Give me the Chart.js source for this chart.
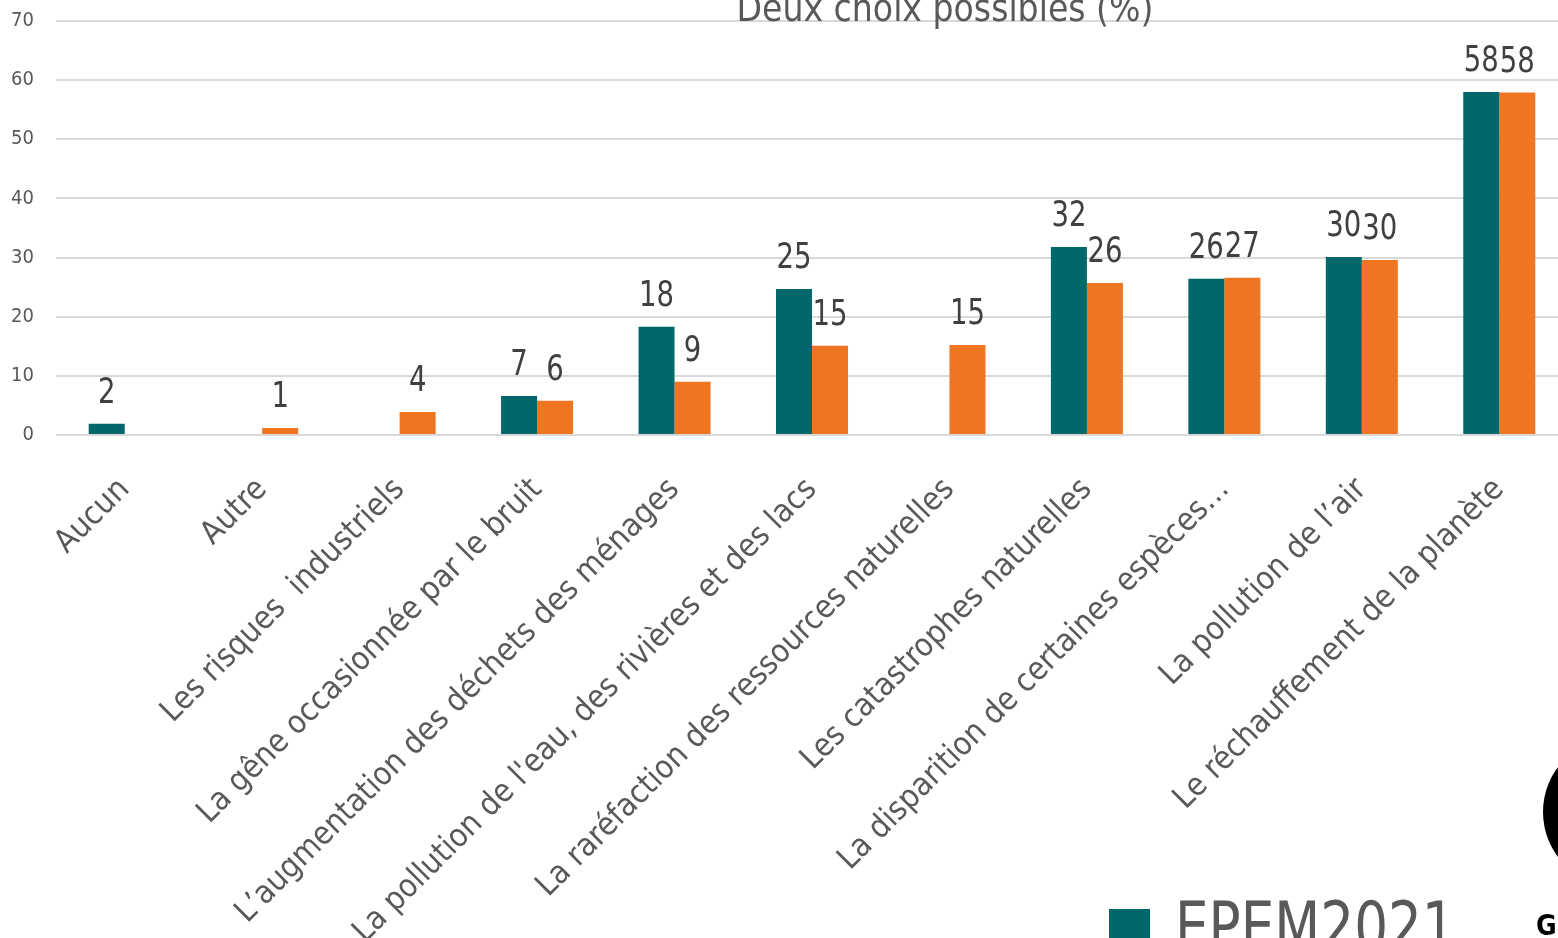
<!DOCTYPE html>
<html>
<head>
<meta charset="utf-8">
<script src="https://cdn.jsdelivr.net/npm/chart.js@4.4.1/dist/chart.umd.min.js"></script>
<style>
  html, body { margin:0; padding:0; background:#fff; overflow:hidden; }
  .wrap { position:absolute; left:0; top:0; width:1570px; height:938px; }
</style>
</head>
<body>
<div class="wrap"><canvas id="ch"></canvas></div>
<script>
const categories = [
  'Aucun',
  'Autre',
  'Les risques  industriels',
  'La gêne occasionnée par le bruit',
  'L’augmentation des déchets des ménages',
  "La pollution de l'eau, des rivières et des lacs",
  'La raréfaction des ressources naturelles',
  'Les catastrophes naturelles',
  'La disparition de certaines espèces…',
  'La pollution de l’air',
  'Le réchauffement de la planète'
];
const epem2021 = [1.9, null, null, 6.6, 18.3, 24.7, null, 31.8, 26.4, 30.1, 58.0];
const serie2   = [null, 1.2, 3.9, 5.8, 9.0, 15.1, 15.2, 25.7, 26.6, 29.6, 57.9];
const yTicks = [0, 10, 20, 30, 40, 50, 60, 70];

const FONT = "'Liberation Sans Narrow', 'DejaVu Sans Condensed', 'Roboto', sans-serif";
const TEAL = '#00676a', ORANGE = '#ee7623', GREY = '#595959';

// texte un peu resserré, pour imiter la police étroite de l'original
function narrowText(ctx, txt, x, y, sx) {
  ctx.save();
  ctx.translate(x, y);
  ctx.scale(sx, 1);
  ctx.fillText(txt, 0, 0);
  ctx.restore();
}

// valeurs au-dessus des barres
const valueLabels = {
  id: 'valueLabels',
  afterDatasetsDraw(chart) {
    const ctx = chart.ctx;
    ctx.save();
    ctx.font = '36px ' + FONT;
    ctx.fillStyle = '#404040';
    ctx.textAlign = 'center';
    ctx.textBaseline = 'alphabetic';
    chart.data.datasets.forEach((ds, i) => {
      chart.getDatasetMeta(i).data.forEach((bar, j) => {
        const v = ds.data[j];
        if (v == null) return;
        narrowText(ctx, String(Math.round(v)), bar.x, bar.y - 21, 0.85);
      });
    });
    ctx.restore();
  }
};

// titre, légende et logo (coupés comme sur l'original)
const decor = {
  id: 'decor',
  afterDraw(chart) {
    const ctx = chart.ctx;
    const ds = chart.data.datasets[0];
    ctx.save();
    ctx.fillStyle = GREY;
    ctx.textAlign = 'center';
    ctx.textBaseline = 'alphabetic';
    ctx.font = '38px ' + FONT;
    narrowText(ctx, 'Deux choix possibles (%)', 945, 21, 0.97);

    ctx.fillStyle = ds.backgroundColor;
    ctx.fillRect(1109, 909, 41, 41);
    ctx.fillStyle = GREY;
    ctx.textAlign = 'left';
    ctx.font = '68px ' + FONT;
    narrowText(ctx, ds.label, 1175, 950, 0.87);

    ctx.fillStyle = '#000';
    ctx.beginPath();
    ctx.arc(1618, 812, 75, 0, Math.PI * 2);
    ctx.fill();
    ctx.font = 'bold 28px ' + FONT;
    ctx.fillText('G', 1536, 935);
    ctx.restore();
  }
};

new Chart(document.getElementById('ch').getContext('2d'), {
  type: 'bar',
  data: {
    labels: categories,
    datasets: [
      { label:'EPEM2021', data:epem2021, backgroundColor:TEAL },
      { label:'Série 2', data:serie2, backgroundColor:ORANGE }
    ]
  },
  options: {
    responsive:true, maintainAspectRatio:false, animation:false,
    layout:{ padding:{ top:21, left:0, right:2, bottom:0 } },
    datasets:{ bar:{ categoryPercentage:0.524, barPercentage:1 } },
    plugins:{ legend:{ display:false }, title:{ display:false }, tooltip:{ enabled:false } },
    scales:{
      x:{
        grid:{ display:false }, border:{ display:false },
        ticks:{ autoSkip:false, maxRotation:45, minRotation:45, padding:28,
                color:GREY, font:{ family:FONT, size:32 } },
        afterFit(s){ s.height = 503; s.paddingLeft = 0; s.paddingRight = 0; }
      },
      y:{
        min:0, max:70,
        grid:{ color:'#d9d9d9', lineWidth:2, drawTicks:false }, border:{ display:false },
        afterBuildTicks(s){ s.ticks = yTicks.map(v => ({ value:v })); },
        ticks:{ padding:22, color:GREY, font:{ family:FONT, size:20 } },
        afterFit(s){ s.width = 56; s.paddingTop = 0; s.paddingBottom = 0; }
      }
    }
  },
  plugins:[valueLabels, decor]
});
</script>
</body>
</html>
